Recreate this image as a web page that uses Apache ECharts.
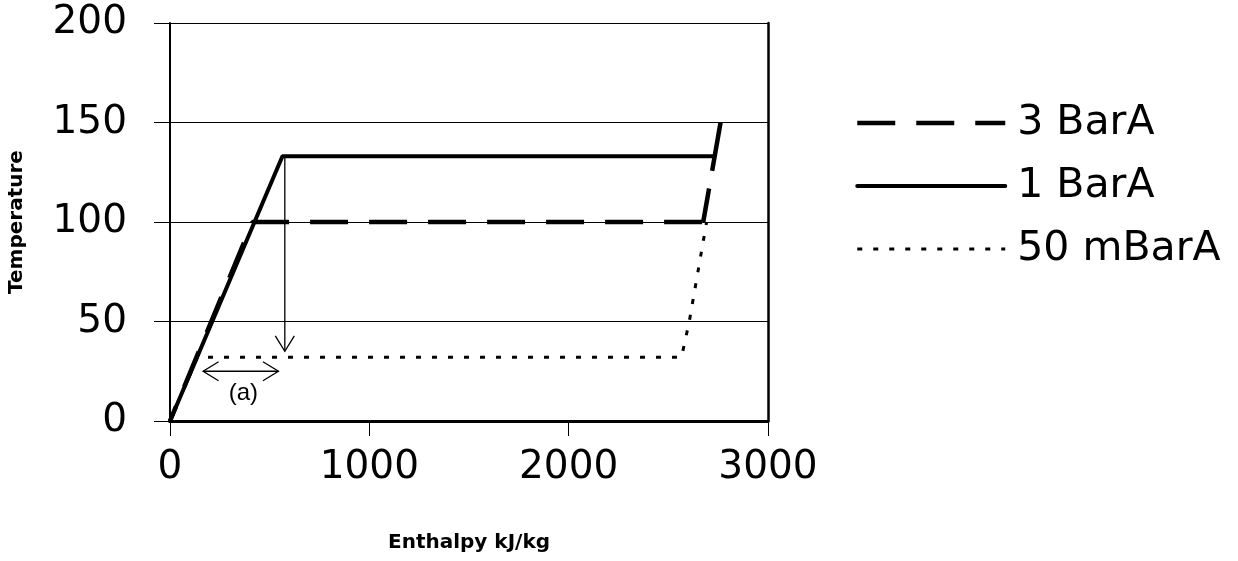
<!DOCTYPE html>
<html>
<head>
<meta charset="utf-8">
<script src="https://cdn.jsdelivr.net/npm/echarts@6/dist/echarts.min.js"></script>
<style>
html,body{margin:0;padding:0;background:#fff;}
#chart{width:1238px;height:561px;}
</style>
</head>
<body>
<div id="chart"></div>
<script>
// ---- data ----
const seriesNames = ['3 BarA', '1 BarA', '50 mBarA'];
// 3 BarA (dashed)
const h3 = [0, 414, 2675];
const t3 = [0, 100, 100];
const h3End = [2675, 2762];
const t3End = [100, 150];
// 1 BarA (solid)
const h1 = [0, 564, 2730];
const t1 = [0, 133, 133];
// 50 mBarA (dotted)
const h50 = [0, 137, 2566, 2605, 2692];
const t50 = [0, 32, 32, 50, 100];
// axes
const xTicks = [0, 1000, 2000, 3000];
const yTicks = [0, 50, 100, 150, 200];
// annotations: [x1, y1, x2, y2, heads(1 = end, 2 = both)]
const arrowDown = [576, 133, 576, 35, 1];
const arrowBoth = [166, 25, 544, 25, 2];
const noteLabel = [368, 14];
const noteText = '(a)';

const zip = (xs, ys) => xs.map((x, i) => [x, ys[i]]);
const FONT = '"DejaVu Sans", Verdana, sans-serif';
const FONT_A = '"Liberation Sans", Arial, sans-serif';

const chart = echarts.init(document.getElementById('chart'));

function arrowItem(params, api) {
  const p1 = api.coord([api.value(0), api.value(1)]);
  const p2 = api.coord([api.value(2), api.value(3)]);
  const heads = api.value(4);
  const st = { stroke: '#000', fill: null, lineWidth: 1.3 };
  const children = [{ type: 'line', shape: { x1: p1[0], y1: p1[1], x2: p2[0], y2: p2[1] }, style: st }];
  function head(tip, from) {
    const dx = tip[0] - from[0], dy = tip[1] - from[1];
    const L = Math.hypot(dx, dy) || 1;
    const ux = dx / L, uy = dy / L;
    const back = 15.5, half = 9.5;
    return {
      type: 'polyline',
      shape: { points: [
        [tip[0] - ux * back - uy * half, tip[1] - uy * back + ux * half],
        [tip[0], tip[1]],
        [tip[0] - ux * back + uy * half, tip[1] - uy * back - ux * half]
      ] },
      style: st
    };
  }
  children.push(head(p2, p1));
  if (heads === 2) children.push(head(p1, p2));
  return { type: 'group', children: children };
}

const option = {
  animation: false,
  backgroundColor: '#fff',
  color: ['#000', '#000', '#000'],
  grid: { left: 170, right: 470, top: 23, bottom: 140, containLabel: false },
  legend: {
    orient: 'vertical',
    left: 850,
    top: 96,
    itemWidth: 148,
    itemHeight: 20,
    itemGap: 19,
    selectedMode: false,
    itemStyle: { opacity: 0 },
    textStyle: { fontSize: 41, fontFamily: FONT, color: '#000', lineHeight: 44, padding: [0, 0, 0, 7] },
    data: [
      { name: seriesNames[0], lineStyle: { width: 4.5, dashOffset: 0 } },
      { name: seriesNames[1], lineStyle: { width: 4 } },
      { name: seriesNames[2], lineStyle: { width: 3, dashOffset: 0 } }
    ]
  },
  xAxis: {
    type: 'value',
    min: 0, max: 3000, interval: 1000,
    name: 'Enthalpy kJ/kg',
    nameLocation: 'middle',
    nameGap: 112,
    nameTextStyle: { fontSize: 20, fontWeight: 'bold', fontFamily: FONT, color: '#000' },
    axisLine: { show: true, onZero: false, lineStyle: { color: '#000', width: 3 } },
    axisTick: { show: true, inside: false, length: 15, lineStyle: { color: '#000', width: 1 } },
    axisLabel: { fontSize: 39, fontFamily: FONT, color: '#000', margin: 27,
                 formatter: v => String(v) },
    splitLine: { show: false }
  },
  yAxis: [{
    type: 'value',
    min: 0, max: 200, interval: 50,
    name: 'Temperature',
    nameLocation: 'middle',
    nameRotate: 90,
    nameGap: 143,
    nameTextStyle: { fontSize: 20, fontWeight: 'bold', fontFamily: FONT, color: '#000' },
    axisLine: { show: true, onZero: false, lineStyle: { color: '#000', width: 2 } },
    axisTick: { show: true, inside: false, length: 16, lineStyle: { color: '#000', width: 1 } },
    axisLabel: { fontSize: 39, fontFamily: FONT, color: '#000', margin: 43,
                 formatter: v => String(v) },
    splitLine: { show: true, lineStyle: { color: '#000', width: 1 } }
  }, {
    type: 'value',
    position: 'right',
    min: 0, max: 200, interval: 50,
    axisLine: { show: true, onZero: false, lineStyle: { color: '#000', width: 2.5 } },
    axisTick: { show: false },
    axisLabel: { show: false },
    splitLine: { show: false }
  }],
  series: [
    {
      name: seriesNames[2], type: 'line', data: zip(h50, t50),
      symbol: 'none', z: 3, itemStyle: { color: '#000' },
      lineStyle: { color: '#000', width: 3, type: [5, 11] }
    },
    {
      name: seriesNames[1], type: 'line', data: zip(h1, t1),
      symbol: 'none', z: 4, itemStyle: { color: '#000' },
      lineStyle: { color: '#000', width: 4, type: 'solid', cap: 'round' }
    },
    {
      name: seriesNames[0], type: 'line', data: zip(h3, t3),
      symbol: 'none', z: 5, itemStyle: { color: '#000' },
      lineStyle: { color: '#000', width: 4.5, type: [38, 21], dashOffset: 22 }
    },
    {
      name: seriesNames[0], type: 'line', data: zip(h3End, t3End),
      symbol: 'none', z: 5, itemStyle: { color: '#000' },
      lineStyle: { color: '#000', width: 4.5, type: [34, 18, 60, 1] }
    },
    {
      type: 'custom', name: 'arrows', z: 6, clip: false,
      data: [arrowDown, arrowBoth],
      encode: { x: [0, 2], y: [1, 3] },
      renderItem: arrowItem
    },
    {
      type: 'custom', name: 'note', z: 6, clip: false,
      data: [noteLabel],
      encode: { x: 0, y: 1 },
      renderItem: function (params, api) {
        const p = api.coord([api.value(0), api.value(1)]);
        return {
          type: 'text',
          style: { text: noteText, x: p[0], y: p[1], align: 'center', verticalAlign: 'middle',
                   fontSize: 24, fontFamily: FONT_A, fill: '#000' }
        };
      }
    }
  ]
};
chart.setOption(option);
</script>
</body>
</html>
